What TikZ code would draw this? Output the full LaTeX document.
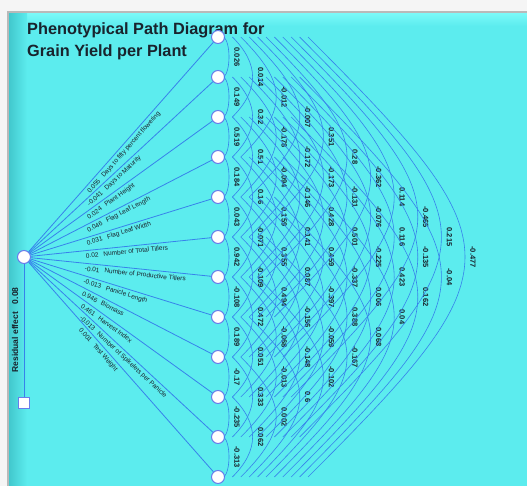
\documentclass[tikz,border=0pt]{standalone}
\usepackage{fontspec}
\setmainfont{Liberation Sans}
\usetikzlibrary{calc}
\definecolor{bgcyan}{RGB}{92,236,238}
\definecolor{edgeteal}{RGB}{66,200,205}
\definecolor{topcyan}{RGB}{120,248,248}
\definecolor{pathblue}{RGB}{55,130,235}
\definecolor{ringblue}{RGB}{105,125,235}
\definecolor{labelink}{RGB}{25,35,45}

\begin{document}
\begin{tikzpicture}[x=1pt, y=1pt, node distance=40pt]
    \tikzstyle{trait} = [circle, draw=ringblue, fill=white, line width=1pt, minimum size=13pt, inner sep=0pt]
    \tikzstyle{residual} = [rectangle, draw=ringblue, fill=white, line width=1pt, minimum size=11pt, inner sep=0pt]
    \tikzstyle{direct} = [draw=pathblue, line width=0.8pt]
    \tikzstyle{corr} = [draw=pathblue, line width=0.6pt]
    \tikzstyle{effect} = [sloped, anchor=north west, pos=0.3, inner xsep=0pt, inner ysep=2.5pt, text=labelink, font=\fontsize{6.5}{7}\selectfont]
    \tikzstyle{coef} = [rotate=-90, inner sep=0pt, text=labelink, font=\fontsize{7.5}{8}\selectfont\bfseries]
    \tikzstyle{title} = [anchor=base west, inner sep=0pt, text=labelink, font=\fontsize{16.3}{20}\selectfont\bfseries]

    \useasboundingbox (0,0) rectangle (527,-486);

    % Panel
    \fill [gray!8] (0,0) rectangle (527,-486);
    \fill [gray!55] (7,-11) rectangle (527,-486);
    \fill [bgcyan] (9,-14) rectangle (527,-486);
    \shade [top color=topcyan, bottom color=bgcyan] (9,-14) rectangle (527,-26);
    \shade [left color=edgeteal, right color=bgcyan] (9,-14) rectangle (27,-486);

    % Title
    \node [title] (title1) at (27,-35) {Phenotypical Path Diagram for};
    \node [title] (title2) at (27,-57) {Grain Yield per Plant};

    % Source and residual
    \node [trait] (src) at (24,-257) {};
    \node [residual] (res) at (24,-403) {};
    \draw [direct] (src) -- (res);
    \node [rotate=90, text=labelink, font=\fontsize{8.5}{9}\selectfont\bfseries] (reslabel) at (15,-330) {Residual effect\hspace{8pt}0.08};

    % Traits
    \node [trait] (t1) at (218,-37) {};
    \node [trait, below of=t1] (t2) {};
    \node [trait, below of=t2] (t3) {};
    \node [trait, below of=t3] (t4) {};
    \node [trait, below of=t4] (t5) {};
    \node [trait, below of=t5] (t6) {};
    \node [trait, below of=t6] (t7) {};
    \node [trait, below of=t7] (t8) {};
    \node [trait, below of=t8] (t9) {};
    \node [trait, below of=t9] (t10) {};
    \node [trait, below of=t10] (t11) {};
    \node [trait, below of=t11] (t12) {};

    % Direct effects
    \draw [direct] (src) -- node [effect] {0.055\hspace{5pt}Days to fifty percent flowering} (t1);
    \draw [direct] (src) -- node [effect] {-0.041\hspace{5pt}Days to Maturity} (t2);
    \draw [direct] (src) -- node [effect] {0.024\hspace{5pt}Plant Height} (t3);
    \draw [direct] (src) -- node [effect] {0.046\hspace{5pt}Flag Leaf Length} (t4);
    \draw [direct] (src) -- node [effect] {0.031\hspace{5pt}Flag Leaf Width} (t5);
    \draw [direct] (src) -- node [effect] {0.02\hspace{5pt}Number of Total Tillers} (t6);
    \draw [direct] (src) -- node [effect] {-0.01\hspace{5pt}Number of Productive Tillers} (t7);
    \draw [direct] (src) -- node [effect] {-0.013\hspace{5pt}Panicle Length} (t8);
    \draw [direct] (src) -- node [effect] {0.946\hspace{5pt}Biomass} (t9);
    \draw [direct] (src) -- node [effect] {0.461\hspace{5pt}Harvest Index} (t10);
    \draw [direct] (src) -- node [effect] {-0.013\hspace{5pt}Number of Spikelets per Panicle} (t11);
    \draw [direct] (src) -- node [effect] {0.001\hspace{5pt}Test Weight} (t12);

    % Correlations
    \foreach \i/\j/\r in {1/2/0.026, 2/3/0.149, 3/4/0.519, 4/5/0.184, 5/6/0.043, 6/7/0.942, 7/8/-0.108, 8/9/0.189, 9/10/-0.17, 10/11/-0.235, 11/12/-0.313,
        1/3/0.014, 2/4/0.32, 3/5/0.51, 4/6/0.16, 5/7/-0.071, 6/8/-0.109, 7/9/0.472, 8/10/0.051, 9/11/0.333, 10/12/0.062,
        1/4/-0.012, 2/5/-0.178, 3/6/-0.094, 4/7/0.159, 5/8/0.355, 6/9/0.494, 7/10/-0.068, 8/11/-0.013, 9/12/0.002,
        1/5/-0.007, 2/6/-0.172, 3/7/-0.146, 4/8/0.141, 5/9/0.087, 6/10/-0.156, 7/11/-0.148, 8/12/0.6,
        1/6/0.351, 2/7/-0.173, 3/8/0.428, 4/9/0.459, 5/10/-0.397, 6/11/-0.059, 7/12/-0.102,
        1/7/0.28, 2/8/-0.131, 3/9/0.501, 4/10/-0.337, 5/11/0.388, 6/12/-0.167,
        1/8/-0.362, 2/9/-0.076, 3/10/-0.225, 4/11/0.006, 5/12/0.068,
        1/9/0.114, 2/10/0.116, 3/11/0.423, 4/12/0.04,
        1/10/-0.465, 2/11/-0.135, 3/12/0.162,
        1/11/0.215, 2/12/-0.04,
        1/12/-0.477} {
        \pgfmathsetmacro{\d}{\j-\i}
        \pgfmathsetmacro{\o}{6+8.4*(\d-1)}
        \pgfmathsetmacro{\lx}{19+23.6*(\d-1)}
        \pgfmathsetmacro{\c}{(\lx-8-\o)/0.75}
        \draw [corr] ($(t\i)+(\o,0)$) .. controls ($(t\i)+(\o+\c,-\c)$) and ($(t\j)+(\o+\c,\c)$) .. ($(t\j)+(\o,0)$);
        \node [coef] (r\i-\j) at ($(t\i)!0.5!(t\j)+(\lx,0)$) {\r};
    }
\end{tikzpicture}
\end{document}
